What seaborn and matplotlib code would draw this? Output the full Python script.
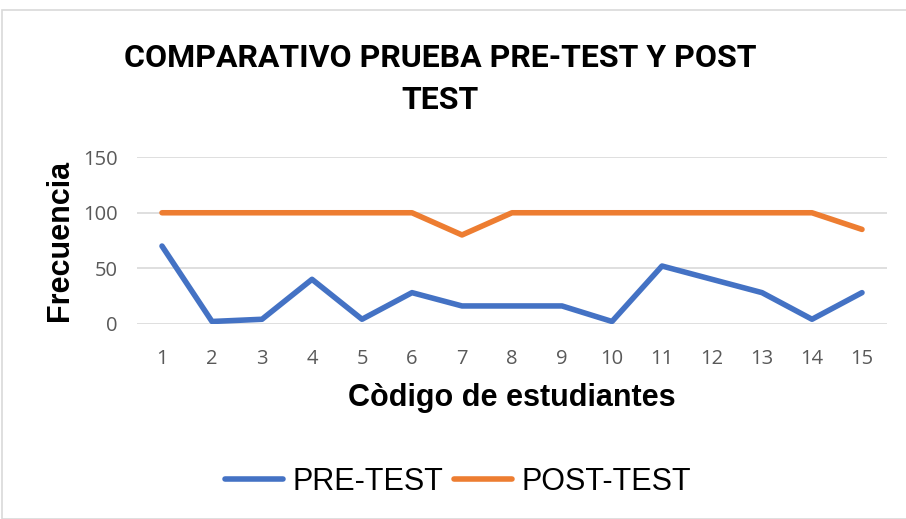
import pandas as pd
import matplotlib.pyplot as plt
import matplotlib.patches as patches
import seaborn as sns

codigos = list(range(1, 16))
pre_test = [70, 2, 4, 40, 4, 28, 16, 16, 16, 2, 52, 40, 28, 4, 28]
post_test = [100, 100, 100, 100, 100, 100, 80, 100, 100, 100, 100, 100, 100, 100, 85]
series = ["PRE-TEST", "POST-TEST"]
colores = ["#4472C4", "#ED7D31"]

df = pd.DataFrame({
    "codigo": codigos * 2,
    "valor": pre_test + post_test,
    "serie": [series[0]] * len(codigos) + [series[1]] * len(codigos),
})

sns.set_style("white")
plt.rcParams["font.family"] = ["Liberation Sans", "DejaVu Sans"]
plt.rcParams["text.color"] = "black"

fig = plt.figure(figsize=(9.06, 5.19), dpi=100)
fig.patches.append(patches.Rectangle((2 / 906, 0), 1.2, 1 - 10 / 519, transform=fig.transFigure,
                                     fill=False, edgecolor="#d9d9d9", linewidth=1.2))
ax = fig.add_axes([137 / 906, 1 - 323.7 / 519, 750 / 906, 166.4 / 519])

sns.lineplot(data=df, x="codigo", y="valor", hue="serie", palette=colores,
             linewidth=4, ax=ax, legend=False)

ax.set_xlim(0.5, 15.5)
ax.set_ylim(0, 150)
ax.set_xticks(codigos)
ax.set_yticks([0, 50, 100, 150])
ax.yaxis.grid(True, color="#d9d9d9", linewidth=1.2)
ax.set_axisbelow(True)
for s in ax.spines.values():
    s.set_visible(False)
ax.tick_params(length=0, labelsize=14.5, labelcolor="#595959")
ax.tick_params(axis="x", pad=18)
ax.tick_params(axis="y", pad=14)
for lbl in ax.get_xticklabels() + ax.get_yticklabels():
    lbl.set_family(["Open Sans", "DejaVu Sans"])

ax.set_xlabel("Còdigo de estudiantes", fontsize=22, fontweight="bold", labelpad=10, color="black")
ax.set_ylabel("Frecuencia", fontsize=22, fontweight="bold", labelpad=6, color="black")

titulo_font = ["Roboto", "DejaVu Sans"]
fig.text(440 / 906, 1 - 58 / 519, "COMPARATIVO PRUEBA PRE-TEST Y POST", ha="center", va="center",
         fontsize=23, fontweight="bold", family=titulo_font, color="black")
fig.text(440 / 906, 1 - 100 / 519, "TEST", ha="center", va="center",
         fontsize=23, fontweight="bold", family=titulo_font, color="black")

handles = [plt.Line2D([], [], color=c, linewidth=4, solid_capstyle="round") for c in colores]
leg = fig.legend(handles, series, loc="center", bbox_to_anchor=(458 / 906, 1 - 482 / 519), ncol=2,
                 frameon=False, fontsize=22, handlelength=1.9, handletextpad=0.3, columnspacing=0.35)
for t in leg.get_texts():
    t.set_color("black")

fig.savefig("out.png", dpi=100)
